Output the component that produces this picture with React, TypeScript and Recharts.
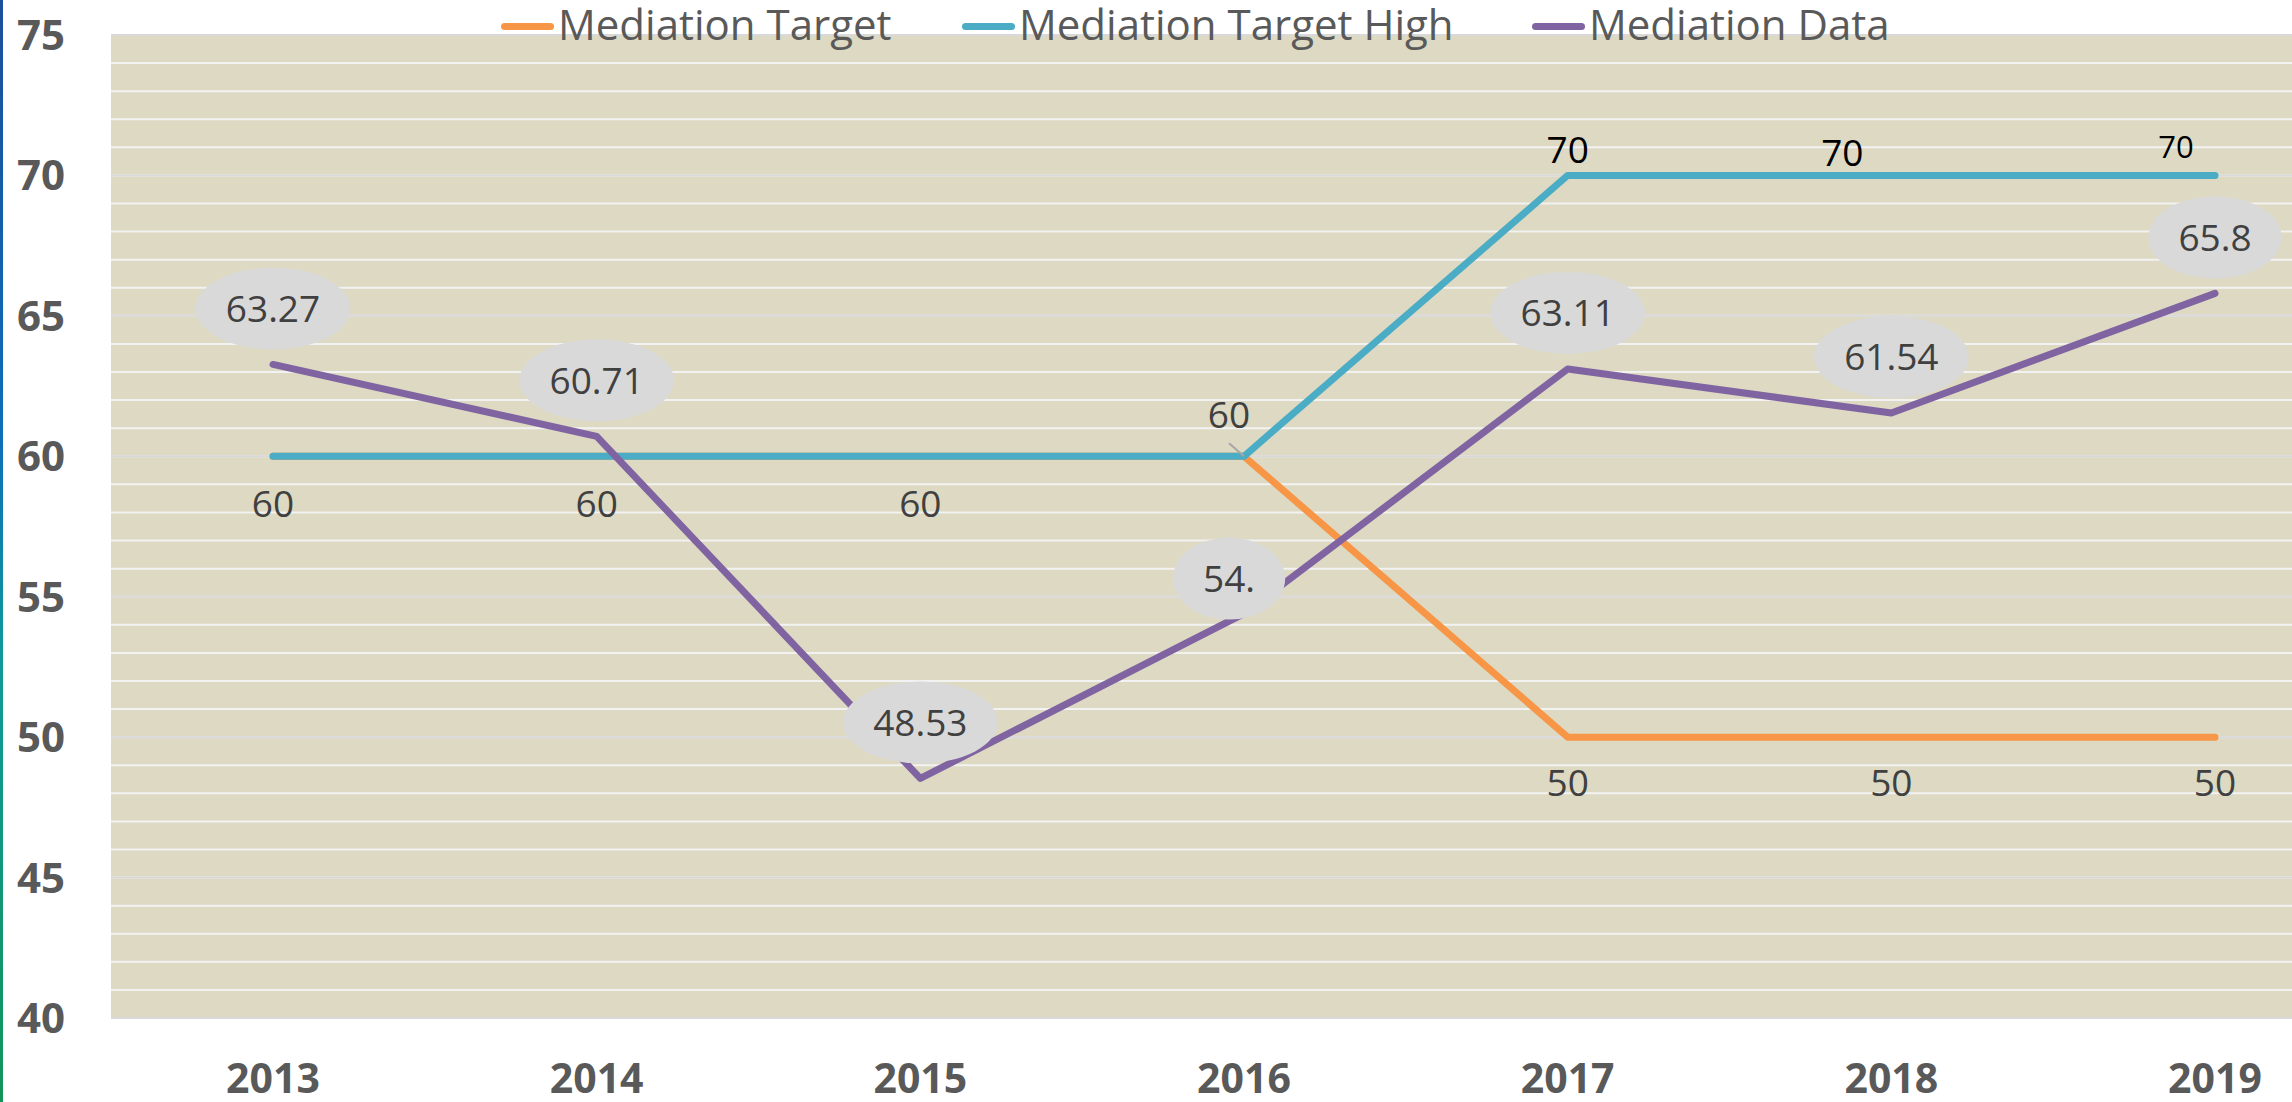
import { CartesianGrid, LabelList, Line, LineChart, XAxis, YAxis } from 'recharts'

const years = ['2013', '2014', '2015', '2016', '2017', '2018', '2019']
const targetValues = [60, 60, 60, 60, 50, 50, 50]
const targetHighValues = [60, 60, 60, 60, 70, 70, 70]
const mediationValues = [63.27, 60.71, 48.53, 54.4, 63.11, 61.54, 65.8]
const mediationLabels = ['63.27', '60.71', '48.53', '54.', '63.11', '61.54', '65.8']
const yTicks = [40, 45, 50, 55, 60, 65, 70, 75]
const minorGrid = [
  40, 41, 42, 43, 44, 45, 46, 47, 48, 49, 50, 51, 52, 53, 54, 55, 56, 57,
  58, 59, 60, 61, 62, 63, 64, 65, 66, 67, 68, 69, 70, 71, 72, 73, 74, 75,
]

const data = years.map((year, i) => ({
  year,
  target: targetValues[i],
  targetHigh: targetHighValues[i],
  mediation: mediationValues[i],
}))

const FONT = '"Open Sans", "Noto Sans", sans-serif'
const COLORS = {
  target: '#F79646',
  targetHigh: '#4BACC6',
  mediation: '#8064A2',
  plot: '#DDD9C3',
  minor: '#F2F2F2',
  major: '#D9D9D9',
  axis: '#595959',
  label: '#404040',
}

// legend entries, left edge of each swatch in px
const legendItems = [
  { name: 'Mediation Target', color: COLORS.target, left: 501 },
  { name: 'Mediation Target High', color: COLORS.targetHigh, left: 962 },
  { name: 'Mediation Data', color: COLORS.mediation, left: 1532 },
]

const LABEL_SIZE = 37

function textWidth(s: string, fs: number) {
  let w = 0
  for (const ch of s) w += ch === '.' ? 0.27 * fs : 0.572 * fs
  return w
}

function XTick({ x, y, payload }: any) {
  return (
    <text x={x} y={y + 75} textAnchor="middle" fill={COLORS.axis} fontFamily={FONT} fontSize={41} fontWeight={700}>
      {payload.value}
    </text>
  )
}

function YTick({ x, y, payload }: any) {
  return (
    <text x={x - 94} y={y + 15} textAnchor="start" fill={COLORS.axis} fontFamily={FONT} fontSize={42} fontWeight={700}>
      {payload.value}
    </text>
  )
}

function MediationLabel({ x, y, index }: any) {
  const text = mediationLabels[index]
  const shift = index === 3 ? { dx: -15, dy: -35 } : { dx: 0, dy: -56 }
  const cx = x + shift.dx
  const cy = y + shift.dy
  const rx = textWidth(text, LABEL_SIZE) / 2 + 30
  return (
    <g>
      <ellipse cx={cx} cy={cy} rx={rx} ry={41} fill="#D9D9D9" />
      <text x={cx} y={cy + LABEL_SIZE * 0.357} textAnchor="middle" fill={COLORS.label} fontFamily={FONT} fontSize={LABEL_SIZE}>
        {text}
      </text>
    </g>
  )
}

function TargetLabel({ x, y, value, index }: any) {
  if (index === 3) {
    return (
      <g>
        <line x1={x - 15} y1={y - 13} x2={x} y2={y} stroke="#A6A6A6" strokeWidth={2} />
        <text x={x - 15} y={y - 41 + LABEL_SIZE * 0.357} textAnchor="middle" fill={COLORS.label} fontFamily={FONT} fontSize={LABEL_SIZE}>
          {value}
        </text>
      </g>
    )
  }
  const dy = value === 50 ? 46 : 48
  return (
    <text x={x} y={y + dy + LABEL_SIZE * 0.357} textAnchor="middle" fill={COLORS.label} fontFamily={FONT} fontSize={LABEL_SIZE}>
      {value}
    </text>
  )
}

function TargetHighLabel({ x, y, value, index }: any) {
  if (index < 4) return null
  const shift = index === 5 ? { dx: -49, dy: -23, fs: 37 } : index === 6 ? { dx: -39, dy: -28, fs: 31 } : { dx: 0, dy: -26, fs: 37 }
  return (
    <text x={x + shift.dx} y={y + shift.dy + shift.fs * 0.357} textAnchor="middle" fill="#000000" fontFamily={FONT} fontSize={shift.fs}>
      {value}
    </text>
  )
}

function ChartLegend() {
  return (
    <>
      {legendItems.map((item) => (
        <div
          key={item.name}
          style={{
            position: 'absolute',
            left: item.left,
            top: 3,
            display: 'flex',
            alignItems: 'center',
            fontFamily: FONT,
            fontSize: 42,
            lineHeight: '42px',
            color: COLORS.axis,
            whiteSpace: 'nowrap',
          }}
        >
          <span style={{ width: 53, height: 7, borderRadius: 4, background: item.color, marginRight: 4, marginTop: 4 }} />
          <span>{item.name}</span>
        </div>
      ))}
    </>
  )
}

export default function App() {
  return (
    <div style={{ position: 'absolute', left: 0, top: 0, width: 2292, height: 1102, overflow: 'hidden', background: '#fff' }}>
      <div
        style={{
          position: 'absolute',
          left: 0,
          top: 0,
          width: 3,
          height: 1102,
          background: 'linear-gradient(to bottom, #1B4E9B 0%, #0E6FB8 40%, #0F9A9A 60%, #129458 100%)',
        }}
      />
      <LineChart width={2377} height={1102} data={data} margin={{ top: 35, right: 0, bottom: 0, left: 0 }}>
        <CartesianGrid vertical={false} fill={COLORS.plot} fillOpacity={1} stroke={COLORS.minor} strokeWidth={2} horizontalValues={minorGrid} />
        <CartesianGrid vertical={false} fill="none" stroke={COLORS.major} strokeWidth={2} horizontalValues={yTicks} />
        <XAxis
          dataKey="year"
          padding={{ left: 162, right: 162 }}
          axisLine={false}
          tickLine={false}
          tickSize={0}
          tickMargin={0}
          height={84}
          interval={0}
          tick={<XTick />}
        />
        <YAxis
          type="number"
          domain={[40, 75]}
          ticks={yTicks}
          allowDataOverflow
          axisLine={false}
          tickLine={false}
          tickSize={0}
          tickMargin={0}
          width={111}
          tick={<YTick />}
        />
        <Line dataKey="target" stroke={COLORS.target} strokeWidth={7} strokeLinecap="round" strokeLinejoin="round" dot={false} activeDot={false} isAnimationActive={false}>
          <LabelList dataKey="target" content={<TargetLabel />} />
        </Line>
        <Line dataKey="targetHigh" stroke={COLORS.targetHigh} strokeWidth={7} strokeLinecap="round" strokeLinejoin="round" dot={false} activeDot={false} isAnimationActive={false}>
          <LabelList dataKey="targetHigh" content={<TargetHighLabel />} />
        </Line>
        <Line dataKey="mediation" stroke={COLORS.mediation} strokeWidth={7} strokeLinecap="round" strokeLinejoin="round" dot={false} activeDot={false} isAnimationActive={false}>
          <LabelList dataKey="mediation" content={<MediationLabel />} />
        </Line>
      </LineChart>
      <ChartLegend />
    </div>
  )
}
